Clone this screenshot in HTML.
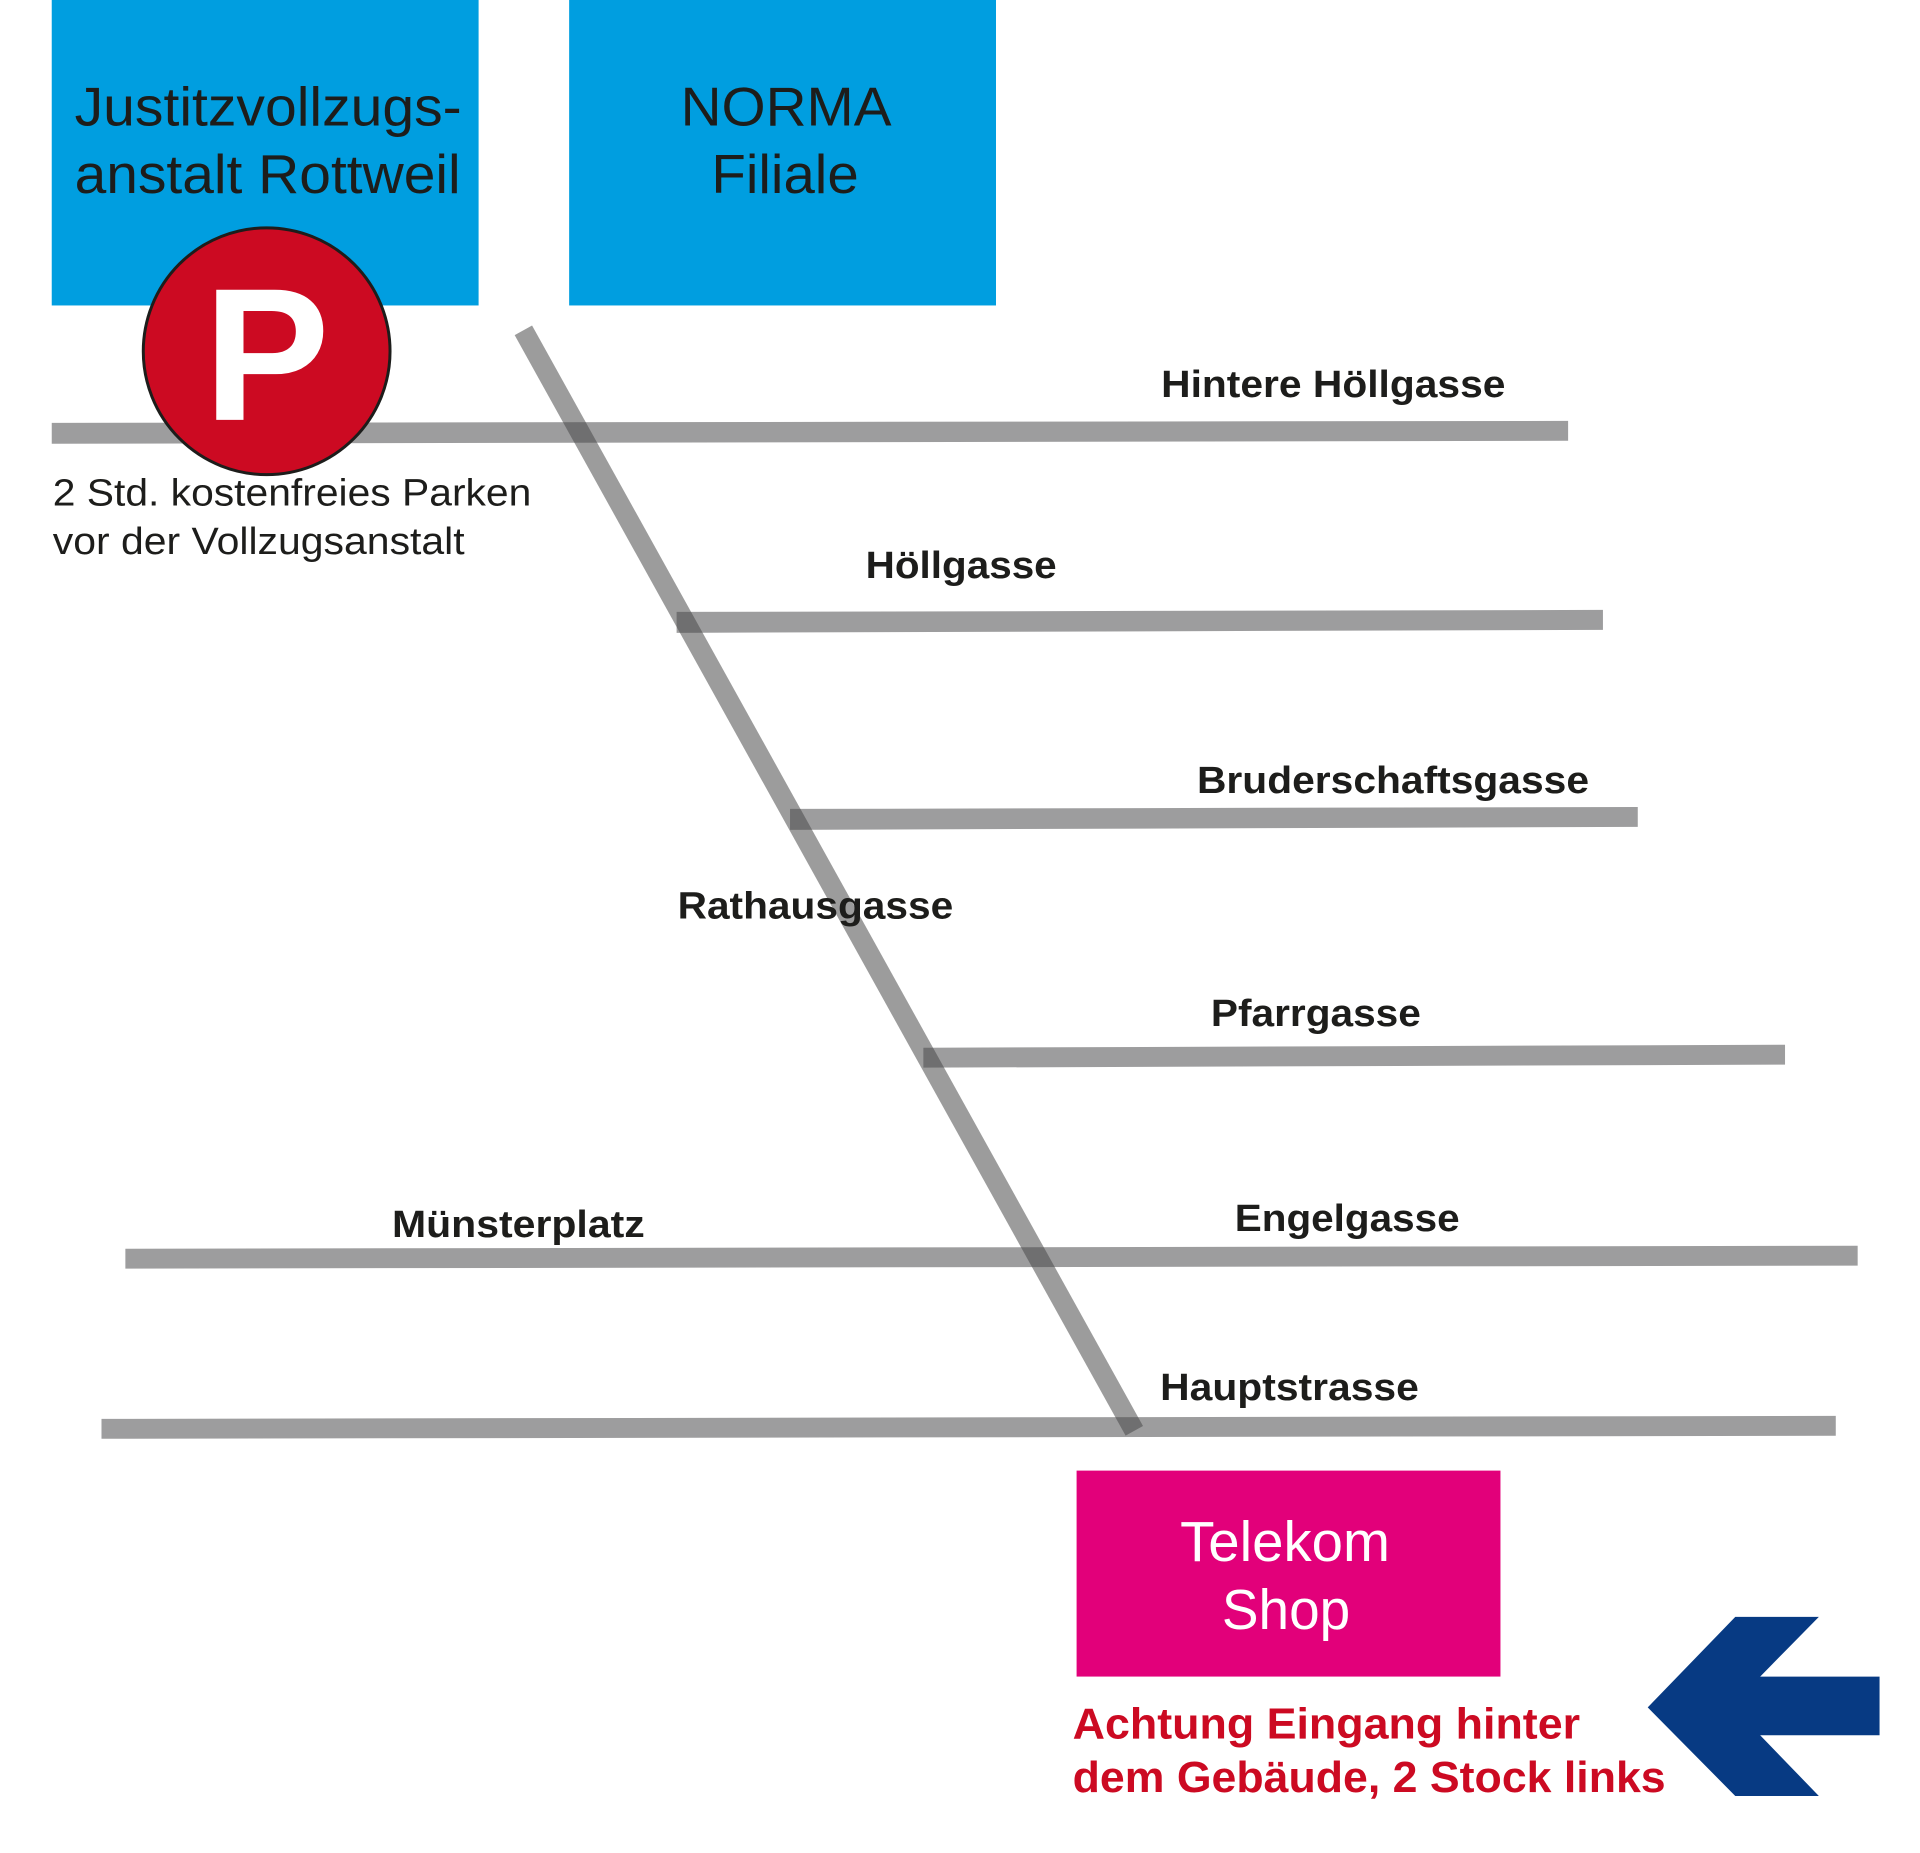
<!DOCTYPE html>
<html><head><meta charset="utf-8"><style>
html,body{margin:0;padding:0;background:#fff;}
svg{display:block;}
text{font-family:"Liberation Sans",Arial,sans-serif;}
</style></head><body>
<svg width="1920" height="1853" viewBox="0 0 1920 1853" xmlns="http://www.w3.org/2000/svg">
<rect x="0" y="0" width="1920" height="1853" fill="#fff"/>
<g transform="scale(0.995)">
<!-- buildings -->
<rect x="52" y="0" width="429" height="307" fill="#009ee0"/>
<rect x="572" y="0" width="429" height="307" fill="#009ee0"/>
<text x="75" y="126" font-size="55" fill="#1d1d1b" textLength="389" lengthAdjust="spacingAndGlyphs">Justitzvollzugs-</text>
<text x="75" y="194" font-size="55" fill="#1d1d1b" textLength="388" lengthAdjust="spacingAndGlyphs">anstalt Rottweil</text>
<text x="684" y="126" font-size="55" fill="#1d1d1b" textLength="212" lengthAdjust="spacingAndGlyphs">NORMA</text>
<text x="715" y="194" font-size="55" fill="#1d1d1b" textLength="148" lengthAdjust="spacingAndGlyphs">Filiale</text>
<!-- roads -->
<g fill="#9d9d9e">
<polygon points="52,425 1576,423 1576,443 52,446"/>
<polygon points="680,615 1611,613 1611,633 680,636"/>
<polygon points="794,813 1646,811 1646,831 794,834"/>
<polygon points="928,1053 1794,1050 1794,1070 928,1073"/>
<polygon points="126,1255 1867,1252 1867,1272 126,1275"/>
<polygon points="102,1426 1845,1423 1845,1443 102,1446"/>
</g>
<line x1="526" y1="332" x2="1140" y2="1438" stroke="rgb(73,73,73)" stroke-opacity="0.545" stroke-width="20"/>
<!-- parking -->
<circle cx="268" cy="353" r="124" fill="#cc0a22" stroke="#1d1d1b" stroke-width="3"/>
<text x="268" y="422" font-size="190" font-weight="bold" fill="#fff" text-anchor="middle">P</text>
<text x="53" y="508" font-size="38" fill="#1d1d1b" textLength="481" lengthAdjust="spacingAndGlyphs">2 Std. kostenfreies Parken</text>
<text x="53" y="557" font-size="38" fill="#1d1d1b" textLength="414" lengthAdjust="spacingAndGlyphs">vor der Vollzugsanstalt</text>
<!-- street labels -->
<g font-size="38" font-weight="bold" fill="#1d1d1b">
<text x="1167" y="399" textLength="346" lengthAdjust="spacingAndGlyphs">Hintere Höllgasse</text>
<text x="870" y="581" textLength="192" lengthAdjust="spacingAndGlyphs">Höllgasse</text>
<text x="1203" y="797" textLength="394" lengthAdjust="spacingAndGlyphs">Bruderschaftsgasse</text>
<text x="681" y="923" textLength="277" lengthAdjust="spacingAndGlyphs">Rathausgasse</text>
<text x="1217" y="1031" textLength="211" lengthAdjust="spacingAndGlyphs">Pfarrgasse</text>
<text x="394" y="1243" textLength="254" lengthAdjust="spacingAndGlyphs">Münsterplatz</text>
<text x="1241" y="1237" textLength="226" lengthAdjust="spacingAndGlyphs">Engelgasse</text>
<text x="1166" y="1407" textLength="260" lengthAdjust="spacingAndGlyphs">Hauptstrasse</text>
</g>
<!-- telekom -->
<rect x="1082" y="1478" width="426" height="207" fill="#e2007a"/>
<text x="1186" y="1569" font-size="57" fill="#fff" textLength="211" lengthAdjust="spacingAndGlyphs">Telekom</text>
<text x="1228" y="1637" font-size="57" fill="#fff" textLength="129" lengthAdjust="spacingAndGlyphs">Shop</text>
<text x="1078" y="1747" font-size="44" font-weight="bold" fill="#cc0a22" textLength="510" lengthAdjust="spacingAndGlyphs">Achtung Eingang hinter</text>
<text x="1078" y="1801" font-size="44" font-weight="bold" fill="#cc0a22" textLength="596" lengthAdjust="spacingAndGlyphs">dem Gebäude, 2 Stock links</text>
<!-- arrow -->
<polygon points="1656,1716 1744,1625 1828,1625 1769,1685 1889,1685 1889,1744 1769,1744 1828,1805 1744,1805" fill="#073a83"/>
</g>
</svg>
</body></html>
